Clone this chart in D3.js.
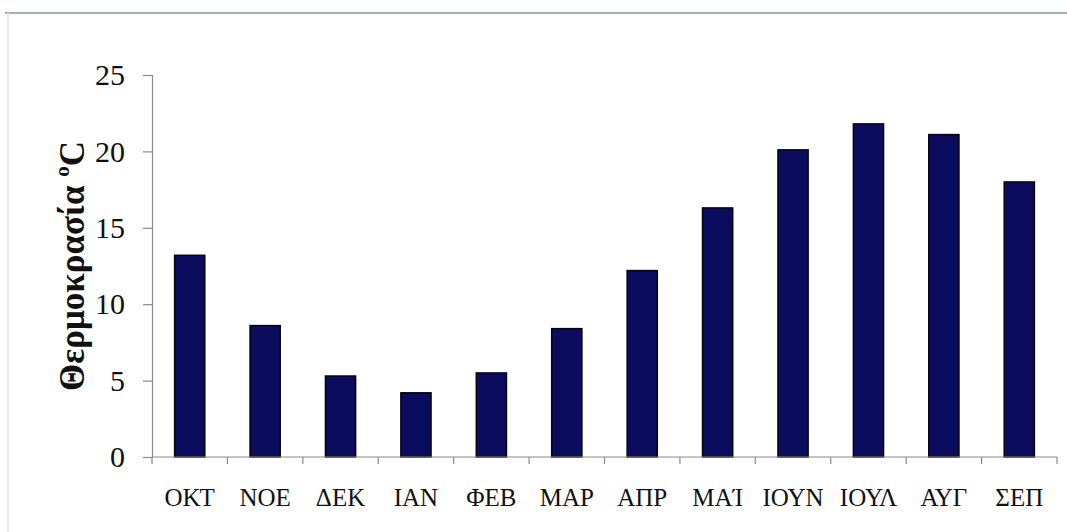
<!DOCTYPE html>
<html>
<head>
<meta charset="utf-8">
<script src="https://cdn.jsdelivr.net/npm/d3@7"></script>
<style>
  html, body { margin: 0; padding: 0; background: #fff; }
  svg { display: block; }
</style>
</head>
<body>
<svg id="chart" width="1067" height="532"></svg>
<script>
// Monthly mean temperature (°C), hydrological year October–September
const months = ["ΟΚΤ", "ΝΟΕ", "ΔΕΚ", "ΙΑΝ", "ΦΕΒ", "ΜΑΡ", "ΑΠΡ", "ΜΑΊ", "ΙΟΥΝ", "ΙΟΥΛ", "ΑΥΓ", "ΣΕΠ"];
const temperature = [13.2, 8.6, 5.3, 4.2, 5.5, 8.4, 12.2, 16.3, 20.1, 21.8, 21.1, 18.0];
const yTicks = [0, 5, 10, 15, 20, 25];
const yTitle = "Θερμοκρασία";

const svg = d3.select("#chart");
const plot = { left: 152, right: 1057, top: 75, bottom: 457 };
const serif = "'Liberation Serif', 'Times New Roman', serif";

// outer frame edges
svg.append("line").attr("x1", 5).attr("x2", 1067).attr("y1", 13).attr("y2", 13)
  .attr("stroke", "#a9b1b1").attr("stroke-width", 2);
svg.append("line").attr("x1", 8).attr("x2", 8).attr("y1", 13).attr("y2", 532)
  .attr("stroke", "#e2e6e6").attr("stroke-width", 1.5);

const x = d3.scaleBand().domain(months).range([plot.left, plot.right]).paddingInner(0.6).paddingOuter(0.3);
const y = d3.scaleLinear().domain([0, 25]).range([plot.bottom, plot.top]);

// bars
svg.append("g").selectAll("rect").data(months).join("rect")
  .attr("x", d => x(d))
  .attr("width", x.bandwidth())
  .attr("y", (d, i) => y(temperature[i]))
  .attr("height", (d, i) => y(0) - y(temperature[i]))
  .attr("fill", "#0c0c5e")
  .attr("stroke", "#050510")
  .attr("stroke-width", 1.5);

// y axis
const yAxis = svg.append("g").attr("transform", `translate(${plot.left},0)`)
  .call(d3.axisLeft(y).tickValues(yTicks).tickSize(9).tickPadding(18).tickFormat(d3.format("d")));
yAxis.select(".domain").attr("stroke", "#8a8a8a").attr("stroke-width", 1.2);
yAxis.selectAll(".tick line").attr("stroke", "#8a8a8a").attr("stroke-width", 1.2);
yAxis.selectAll(".tick text")
  .attr("font-family", serif)
  .attr("font-size", 30).attr("fill", "#111");

// x axis: ticks sit on the category boundaries
const boundaries = d3.range(months.length + 1).map(i => plot.left + i * (plot.right - plot.left) / months.length);
const xg = svg.append("g");
xg.append("line").attr("x1", plot.left).attr("x2", plot.right).attr("y1", plot.bottom).attr("y2", plot.bottom)
  .attr("stroke", "#8a8a8a").attr("stroke-width", 1.2);
xg.selectAll("line.tk").data(boundaries).join("line").attr("class", "tk")
  .attr("x1", d => d).attr("x2", d => d).attr("y1", plot.bottom).attr("y2", plot.bottom + 7)
  .attr("stroke", "#8a8a8a").attr("stroke-width", 1.2);
xg.selectAll("text").data(months).join("text")
  .attr("x", d => x(d) + x.bandwidth() / 2)
  .attr("y", 506)
  .attr("text-anchor", "middle")
  .attr("font-family", serif)
  .attr("font-size", 25).attr("fill", "#111")
  .text(d => d);

// y axis title
const title = svg.append("text")
  .attr("transform", "translate(84,266) rotate(-90)")
  .attr("text-anchor", "middle")
  .attr("font-family", serif)
  .attr("font-weight", "bold")
  .attr("font-size", 35).attr("fill", "#111");
title.append("tspan").text(yTitle + " ");
title.append("tspan").attr("font-size", 21).attr("dy", -15).text("o");
title.append("tspan").attr("dy", 15).text("C");
</script>
</body>
</html>
